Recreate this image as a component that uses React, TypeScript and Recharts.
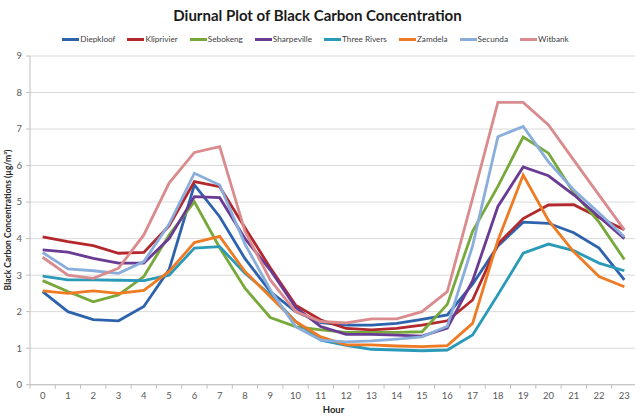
import React from 'react'
import { LineChart, Line, XAxis, YAxis, CartesianGrid } from 'recharts'

const HOURS = ['0', '1', '2', '3', '4', '5', '6', '7', '8', '9', '10', '11', '12', '13', '14', '15', '16', '17', '18', '19', '20', '21', '22', '23']

const DIEPKLOOF = [2.55, 2.0, 1.78, 1.75, 2.14, 3.15, 5.47, 4.6, 3.45, 2.55, 2.0, 1.7, 1.63, 1.63, 1.68, 1.79, 1.91, 2.75, 3.8, 4.45, 4.42, 4.16, 3.74, 2.87]
const KLIPRIVIER = [4.05, 3.92, 3.81, 3.6, 3.62, 4.35, 5.56, 5.42, 4.3, 3.2, 2.18, 1.77, 1.54, 1.5, 1.54, 1.63, 1.75, 2.32, 3.85, 4.55, 4.92, 4.93, 4.58, 4.24]
const SEBOKENG = [2.85, 2.55, 2.27, 2.46, 2.96, 4.1, 5.01, 3.75, 2.64, 1.84, 1.59, 1.5, 1.43, 1.43, 1.43, 1.45, 2.2, 4.2, 5.43, 6.78, 6.34, 5.25, 4.45, 3.43]
const SHARPEVILLE = [3.69, 3.63, 3.46, 3.33, 3.33, 4.0, 5.15, 5.12, 4.0, 3.14, 2.12, 1.59, 1.38, 1.38, 1.36, 1.33, 1.55, 2.85, 4.88, 5.96, 5.72, 5.2, 4.6, 4.0]
const THREE_RIVERS = [2.97, 2.87, 2.87, 2.86, 2.85, 3.0, 3.74, 3.78, 3.05, 2.46, 1.73, 1.22, 1.08, 0.97, 0.95, 0.93, 0.95, 1.36, 2.46, 3.6, 3.85, 3.67, 3.33, 3.12]
const ZAMDELA = [2.57, 2.5, 2.57, 2.5, 2.58, 3.1, 3.89, 4.06, 3.1, 2.41, 1.73, 1.31, 1.09, 1.09, 1.06, 1.04, 1.07, 1.68, 3.95, 5.74, 4.5, 3.64, 2.96, 2.68]
const SECUNDA = [3.62, 3.17, 3.12, 3.05, 3.37, 4.4, 5.79, 5.47, 3.85, 2.6, 1.59, 1.22, 1.17, 1.2, 1.25, 1.31, 1.6, 3.8, 6.79, 7.07, 6.1, 5.33, 4.7, 4.05]
const WITBANK = [3.49, 3.0, 2.91, 3.19, 4.1, 5.52, 6.36, 6.52, 4.2, 2.87, 2.0, 1.73, 1.69, 1.8, 1.8, 2.0, 2.55, 5.1, 7.73, 7.73, 7.11, 6.15, 5.19, 4.24]

const Y_TICKS = [0, 1, 2, 3, 4, 5, 6, 7, 8, 9]

const SERIES = [
  { name: 'Diepkloof', values: DIEPKLOOF, color: '#2d62ad' },
  { name: 'Kliprivier', values: KLIPRIVIER, color: '#b3282d' },
  { name: 'Sebokeng', values: SEBOKENG, color: '#76a83a' },
  { name: 'Sharpeville', values: SHARPEVILLE, color: '#6a3b93' },
  { name: 'Three Rivers', values: THREE_RIVERS, color: '#2a9ab8' },
  { name: 'Zamdela', values: ZAMDELA, color: '#ee7b24' },
  { name: 'Secunda', values: SECUNDA, color: '#8aaedb' },
  { name: 'Witbank', values: WITBANK, color: '#d98b8d' },
]

const data = HOURS.map((hour, i) => {
  const row: Record<string, string | number> = { hour }
  SERIES.forEach(s => { row[s.name] = s.values[i] })
  return row
})

const FONT = 'Lato, "DejaVu Sans", sans-serif'
const AXIS_COLOR = '#bfbfbf'
const HALF_BAND = 12.65

// Excel puts the x tick marks between categories, so draw them half a band off
function HourTick(props: any) {
  const { x, y, payload, index } = props
  return (
    <g>
      <line x1={x - HALF_BAND} x2={x - HALF_BAND} y1={y - 7} y2={y - 3} stroke={AXIS_COLOR} />
      {index === HOURS.length - 1 && (
        <line x1={x + HALF_BAND} x2={x + HALF_BAND} y1={y - 7} y2={y - 3} stroke={AXIS_COLOR} />
      )}
      <text x={x} y={y} dy="0.75em" textAnchor="middle" fontSize={9.5} fill="#595959" fontFamily={FONT}>
        {payload.value}
      </text>
    </g>
  )
}

export default function App() {
  return (
    <div style={{ position: 'absolute', left: 0, top: 0, width: 635, height: 416, overflow: 'hidden', background: '#fff', fontFamily: FONT }}>
      <div style={{ position: 'absolute', top: 6, left: 0, width: 635, textAlign: 'center', fontSize: 15, fontWeight: 700, color: '#1a1a1a' }}>
        Diurnal Plot of Black Carbon Concentration
      </div>
      <div style={{ position: 'absolute', top: 34, left: 4, width: 635, display: 'flex', justifyContent: 'center', fontSize: 8.2, color: '#404040' }}>
        {SERIES.map(s => (
          <div key={s.name} style={{ display: 'flex', alignItems: 'center', marginRight: 12 }}>
            <span style={{ display: 'inline-block', width: 17, height: 3, background: s.color, marginRight: 1 }} />
            <span>{s.name}</span>
          </div>
        ))}
      </div>
      <LineChart width={637} height={416} data={data} margin={{ top: 56, right: 0, left: 10, bottom: 0 }}>
        <CartesianGrid vertical={false} stroke="#d9d9d9" />
        <XAxis
          dataKey="hour"
          height={31.3}
          padding={{ left: HALF_BAND, right: HALF_BAND }}
          stroke={AXIS_COLOR}
          tickLine={false}
          tickSize={4}
          tickMargin={3}
          interval={0}
          tick={<HourTick />}
          label={{ value: 'Hour', position: 'insideBottom', offset: 3, fontSize: 9.5, fontWeight: 700, fill: '#262626', fontFamily: FONT }}
        />
        <YAxis
          width={20}
          domain={[0, 9]}
          ticks={Y_TICKS}
          interval={0}
          stroke={AXIS_COLOR}
          tickSize={4}
          tickMargin={4}
          tick={{ fontSize: 9.5, fill: '#595959', fontFamily: FONT }}
          label={{
            content: () => (
              <text x={8} y={220} transform="rotate(-90, 8, 220)" textAnchor="middle" dominantBaseline="central" fontSize={8.5} fontWeight={700} fill="#262626" fontFamily={FONT}>
                Black Carbon Concentrations (µg/m³)
              </text>
            ),
          }}
        />
        {SERIES.map(s => (
          <Line
            key={s.name}
            type="linear"
            dataKey={s.name}
            stroke={s.color}
            strokeWidth={2.8}
            dot={false}
            activeDot={false}
            isAnimationActive={false}
          />
        ))}
      </LineChart>
    </div>
  )
}
